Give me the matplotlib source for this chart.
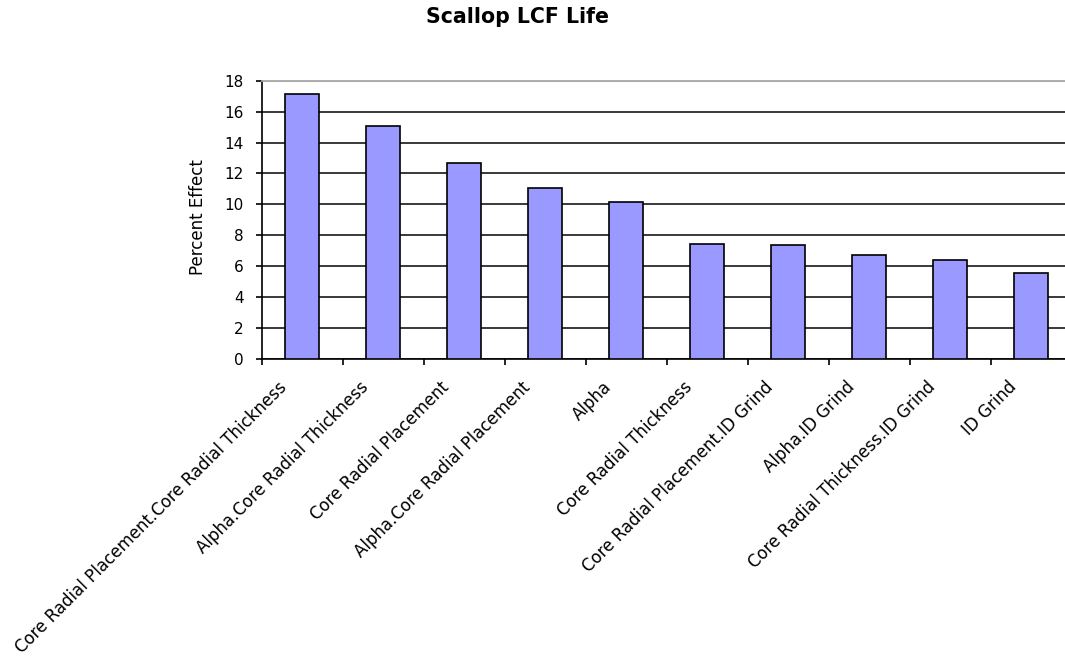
import numpy as np
import matplotlib
matplotlib.use("Agg")
import matplotlib.pyplot as plt
from matplotlib.transforms import ScaledTranslation

# effects for the scallop LCF life response
factors = [
    "Core Radial Placement.Core Radial Thickness",
    "Alpha.Core Radial Thickness",
    "Core Radial Placement",
    "Alpha.Core Radial Placement",
    "Alpha",
    "Core Radial Thickness",
    "Core Radial Placement.ID Grind",
    "Alpha.ID Grind",
    "Core Radial Thickness.ID Grind",
    "ID Grind",
]
effect = [17.12, 15.10, 12.65, 11.08, 10.16, 7.47, 7.37, 6.72, 6.42, 5.56]
yticks = [0, 2, 4, 6, 8, 10, 12, 14, 16, 18]

plt.rcParams['font.family'] = ['DejaVu Sans']

fig = plt.figure(figsize=(10.65, 6.61), dpi=100)
ax = fig.add_axes([0.2457, 0.4569, 0.7606, 0.4210])

x = np.arange(len(factors))
ax.bar(x, effect, width=0.42, color='#9999ff', edgecolor='black',
       linewidth=1.2, zorder=3)

ax.set_xlim(-0.5, len(factors) - 0.5)
ax.set_ylim(yticks[0], yticks[-1])
ax.set_yticks(yticks)
ax.tick_params(axis='y', direction='out', length=4, width=1.2, pad=9,
               labelsize=11)

# category labels in the middle, tick marks on the boundaries
ax.set_xticks(x)
ax.set_xticks(np.arange(len(factors) + 1) - 0.5, minor=True)
ax.tick_params(axis='x', which='major', length=0, pad=13.7, labelsize=12)
ax.tick_params(axis='x', which='minor', direction='out', length=4, width=1.2)
ax.set_xticklabels(factors, rotation=45, ha='right', va='top',
                   rotation_mode='anchor')
shift = ScaledTranslation(-0.24, 0, fig.dpi_scale_trans)
for lbl in ax.get_xticklabels():
    lbl.set_transform(lbl.get_transform() + shift)

ax.yaxis.grid(True, color='#2a2a2a', linewidth=1.3, zorder=0)
ax.get_ygridlines()[-1].set_color('#a8a8a8')
ax.set_axisbelow(True)

ax.spines['left'].set_color('black')
ax.spines['left'].set_linewidth(1.2)
ax.spines['bottom'].set_color('black')
ax.spines['bottom'].set_linewidth(1.2)
ax.spines['top'].set_color('#a8a8a8')
ax.spines['top'].set_linewidth(1.3)
ax.spines['right'].set_visible(False)

fig.text(518 / 1065, 1 - 17 / 661, 'Scallop LCF Life', ha='center',
         va='center', fontsize=14.8, fontweight='bold')
fig.text(198 / 1065, 1 - 217 / 661, 'Percent Effect', ha='center',
         va='center', rotation=90, fontsize=12)

fig.savefig('out.png', dpi=100, facecolor='white')
